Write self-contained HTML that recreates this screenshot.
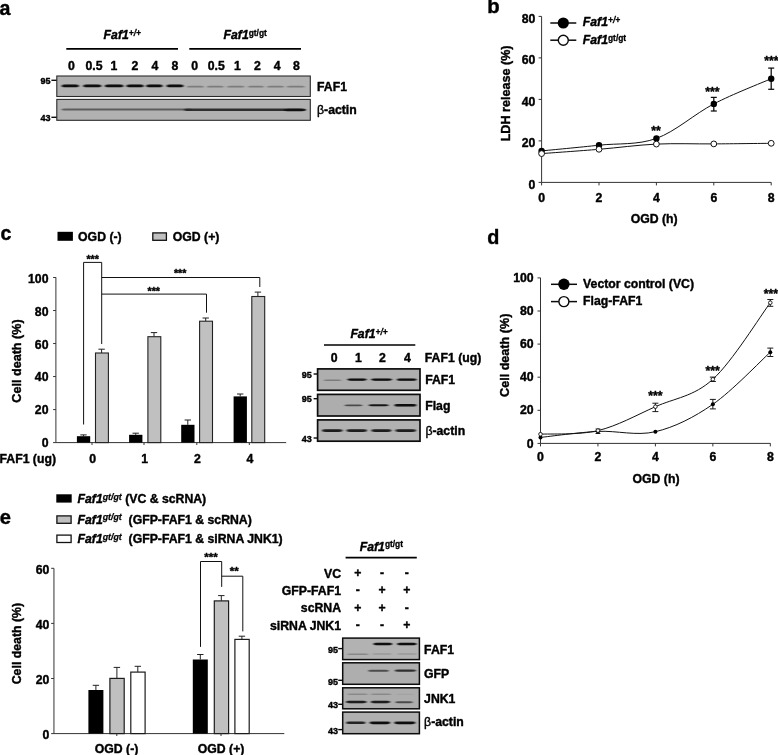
<!DOCTYPE html>
<html lang="en"><head><meta charset="utf-8"><title>FAF1 OGD figure</title>
<style>html,body{margin:0;padding:0;background:#fff;overflow:hidden}svg{display:block}text{font-family:"Liberation Sans",sans-serif;font-weight:bold;fill:#000;stroke:#000;stroke-width:0.4px;stroke-linejoin:round}</style></head><body>
<svg width="778" height="755" viewBox="0 0 778 755">
<defs><filter id="b1" x="-20%" y="-100%" width="140%" height="300%"><feGaussianBlur stdDeviation="0.9 0.6"/></filter><filter id="b2" x="-20%" y="-100%" width="140%" height="300%"><feGaussianBlur stdDeviation="1.3 0.9"/></filter></defs>
<rect x="0.00" y="0.00" width="778.00" height="755.00" fill="#fff"/>
<g id="panel-a">
<text x="-0.50" y="15.20" font-size="19.6" text-anchor="start">a</text>
<text x="103.60" y="39.20" font-size="12.25" font-style="italic">Faf1<tspan dy="-3.4" font-size="8.4" stroke-width="0.3" font-style="italic">+/+</tspan></text>
<text x="223.50" y="39.20" font-size="12.25" font-style="italic">Faf1<tspan dy="-3.4" font-size="8.4" stroke-width="0.3" font-style="normal">gt/gt</tspan></text>
<line x1="66.30" y1="48.90" x2="178.00" y2="48.90" stroke="#000" stroke-width="1.6"/>
<line x1="189.30" y1="48.90" x2="301.00" y2="48.90" stroke="#000" stroke-width="1.6"/>
<text x="71.50" y="70.20" font-size="12.25" text-anchor="middle">0</text>
<text x="94.00" y="70.20" font-size="12.25" text-anchor="middle">0.5</text>
<text x="114.00" y="70.20" font-size="12.25" text-anchor="middle">1</text>
<text x="135.00" y="70.20" font-size="12.25" text-anchor="middle">2</text>
<text x="155.00" y="70.20" font-size="12.25" text-anchor="middle">4</text>
<text x="175.00" y="70.20" font-size="12.25" text-anchor="middle">8</text>
<text x="194.70" y="70.20" font-size="12.25" text-anchor="middle">0</text>
<text x="216.30" y="70.20" font-size="12.25" text-anchor="middle">0.5</text>
<text x="237.40" y="70.20" font-size="12.25" text-anchor="middle">1</text>
<text x="257.40" y="70.20" font-size="12.25" text-anchor="middle">2</text>
<text x="277.20" y="70.20" font-size="12.25" text-anchor="middle">4</text>
<text x="296.50" y="70.20" font-size="12.25" text-anchor="middle">8</text>
<rect x="56.80" y="76.00" width="253.50" height="20.50" fill="#b1b1b1" stroke="#2a2a2a" stroke-width="1.1"/>
<rect x="56.80" y="99.40" width="253.50" height="20.90" fill="#b1b1b1" stroke="#2a2a2a" stroke-width="1.1"/>
<rect x="61.70" y="84.47" width="17.10" height="2.87" rx="3.42" ry="1.43" fill="#080808" opacity="1.0" filter="url(#b1)"/>
<rect x="83.30" y="84.47" width="18.00" height="2.87" rx="3.60" ry="1.43" fill="#080808" opacity="1.0" filter="url(#b1)"/>
<rect x="104.90" y="84.47" width="18.50" height="2.87" rx="3.70" ry="1.43" fill="#080808" opacity="1.0" filter="url(#b1)"/>
<rect x="126.50" y="84.47" width="17.10" height="2.87" rx="3.42" ry="1.43" fill="#080808" opacity="1.0" filter="url(#b1)"/>
<rect x="146.30" y="84.47" width="16.20" height="2.87" rx="3.24" ry="1.43" fill="#080808" opacity="1.0" filter="url(#b1)"/>
<rect x="166.60" y="84.47" width="16.90" height="2.87" rx="3.38" ry="1.43" fill="#080808" opacity="1.0" filter="url(#b1)"/>
<rect x="187.00" y="85.80" width="16.80" height="1.80" rx="3.36" ry="0.90" fill="#666" opacity="0.7" filter="url(#b1)"/>
<rect x="207.00" y="85.80" width="16.60" height="1.80" rx="3.32" ry="0.90" fill="#666" opacity="0.7" filter="url(#b1)"/>
<rect x="227.20" y="85.80" width="17.10" height="1.80" rx="3.42" ry="0.90" fill="#666" opacity="0.7" filter="url(#b1)"/>
<rect x="247.90" y="85.80" width="16.10" height="1.80" rx="3.22" ry="0.90" fill="#666" opacity="0.7" filter="url(#b1)"/>
<rect x="267.10" y="85.80" width="16.80" height="1.80" rx="3.36" ry="0.90" fill="#666" opacity="0.7" filter="url(#b1)"/>
<rect x="286.90" y="85.80" width="17.70" height="1.80" rx="3.54" ry="0.90" fill="#666" opacity="0.7" filter="url(#b1)"/>
<rect x="61.50" y="108.38" width="130.50" height="2.05" rx="3.92" ry="1.02" fill="#3c3c3c" opacity="0.72" filter="url(#b1)"/>
<rect x="184.00" y="108.57" width="122.00" height="2.46" rx="4.88" ry="1.23" fill="#222" opacity="0.9" filter="url(#b1)"/>
<rect x="284.00" y="108.87" width="21.00" height="2.46" rx="5.25" ry="1.23" fill="#0c0c0c" opacity="0.9" filter="url(#b1)"/>
<text x="50.50" y="83.90" font-size="9.0" text-anchor="end">95</text>
<line x1="51.40" y1="80.30" x2="56.60" y2="80.30" stroke="#0a0a0a" stroke-width="1.4"/>
<text x="50.50" y="120.90" font-size="9.0" text-anchor="end">43</text>
<line x1="51.40" y1="117.30" x2="56.60" y2="117.30" stroke="#0a0a0a" stroke-width="1.4"/>
<text x="317.00" y="91.40" font-size="12.25" text-anchor="start">FAF1</text>
<text x="317.00" y="113.90" font-size="12.25" text-anchor="start"><tspan font-weight="normal">β</tspan>-actin</text>
</g>
<g id="panel-b">
<text x="487.30" y="12.90" font-size="20.3" text-anchor="start">b</text>
<line x1="541.60" y1="16.40" x2="541.60" y2="182.40" stroke="#333" stroke-width="1.0"/>
<line x1="541.60" y1="182.40" x2="771.20" y2="182.40" stroke="#333" stroke-width="1.0"/>
<line x1="538.60" y1="182.40" x2="541.60" y2="182.40" stroke="#333" stroke-width="1.0"/>
<text x="535.40" y="188.60" font-size="12.25" text-anchor="end">0</text>
<line x1="538.60" y1="140.90" x2="541.60" y2="140.90" stroke="#333" stroke-width="1.0"/>
<text x="535.40" y="147.10" font-size="12.25" text-anchor="end">20</text>
<line x1="538.60" y1="99.40" x2="541.60" y2="99.40" stroke="#333" stroke-width="1.0"/>
<text x="535.40" y="105.60" font-size="12.25" text-anchor="end">40</text>
<line x1="538.60" y1="57.90" x2="541.60" y2="57.90" stroke="#333" stroke-width="1.0"/>
<text x="535.40" y="64.10" font-size="12.25" text-anchor="end">60</text>
<line x1="538.60" y1="16.40" x2="541.60" y2="16.40" stroke="#333" stroke-width="1.0"/>
<text x="535.40" y="22.60" font-size="12.25" text-anchor="end">80</text>
<line x1="541.60" y1="182.40" x2="541.60" y2="185.40" stroke="#333" stroke-width="1.0"/>
<text x="541.60" y="202.20" font-size="12.25" text-anchor="middle">0</text>
<line x1="599.00" y1="182.40" x2="599.00" y2="185.40" stroke="#333" stroke-width="1.0"/>
<text x="599.00" y="202.20" font-size="12.25" text-anchor="middle">2</text>
<line x1="656.40" y1="182.40" x2="656.40" y2="185.40" stroke="#333" stroke-width="1.0"/>
<text x="656.40" y="202.20" font-size="12.25" text-anchor="middle">4</text>
<line x1="713.80" y1="182.40" x2="713.80" y2="185.40" stroke="#333" stroke-width="1.0"/>
<text x="713.80" y="202.20" font-size="12.25" text-anchor="middle">6</text>
<line x1="771.20" y1="182.40" x2="771.20" y2="185.40" stroke="#333" stroke-width="1.0"/>
<text x="771.20" y="202.20" font-size="12.25" text-anchor="middle">8</text>
<text x="654.20" y="222.70" font-size="12.25" text-anchor="middle">OGD (h)</text>
<text transform="translate(509.80,93.40) rotate(-90)" font-size="12.6" text-anchor="middle">LDH release (%)</text>
<line x1="550.30" y1="23.00" x2="576.30" y2="23.00" stroke="#0a0a0a" stroke-width="1.5"/>
<circle cx="563.30" cy="23.00" r="5.6" fill="#000"/>
<line x1="550.30" y1="40.20" x2="576.30" y2="40.20" stroke="#0a0a0a" stroke-width="1.5"/>
<circle cx="563.30" cy="40.20" r="5.0" fill="#fff" stroke="#0a0a0a" stroke-width="1.4"/>
<text x="582.80" y="26.00" font-size="12.25" font-style="italic">Faf1<tspan dy="-3.4" font-size="8.4" stroke-width="0.3" font-style="italic">+/+</tspan></text>
<text x="582.80" y="44.10" font-size="12.25" font-style="italic">Faf1<tspan dy="-3.4" font-size="8.4" stroke-width="0.3" font-style="normal">gt/gt</tspan></text>
<path d="M541.60,153.60 C551.17,152.88 579.87,150.88 599.00,149.30 C618.13,147.72 637.27,145.00 656.40,144.10 C675.53,143.20 694.67,144.03 713.80,143.90 C732.93,143.77 761.63,143.40 771.20,143.30" fill="none" stroke="#111" stroke-width="1.0"/>
<path d="M541.60,150.90 C551.17,149.95 579.87,147.28 599.00,145.20 C618.13,143.12 637.27,145.28 656.40,138.40 C675.53,131.52 694.67,113.85 713.80,103.90 C732.93,93.95 761.63,82.90 771.20,78.70" fill="none" stroke="#111" stroke-width="1.0"/>
<line x1="713.80" y1="97.40" x2="713.80" y2="111.00" stroke="#0a0a0a" stroke-width="1.25"/>
<line x1="710.80" y1="97.40" x2="716.80" y2="97.40" stroke="#0a0a0a" stroke-width="1.25"/>
<line x1="710.80" y1="111.00" x2="716.80" y2="111.00" stroke="#0a0a0a" stroke-width="1.25"/>
<line x1="771.20" y1="68.10" x2="771.20" y2="89.30" stroke="#0a0a0a" stroke-width="1.25"/>
<line x1="768.20" y1="68.10" x2="774.20" y2="68.10" stroke="#0a0a0a" stroke-width="1.25"/>
<line x1="768.20" y1="89.30" x2="774.20" y2="89.30" stroke="#0a0a0a" stroke-width="1.25"/>
<circle cx="541.60" cy="150.90" r="3.2" fill="#000"/>
<circle cx="599.00" cy="145.20" r="3.2" fill="#000"/>
<circle cx="656.40" cy="138.40" r="3.2" fill="#000"/>
<circle cx="713.80" cy="103.90" r="3.2" fill="#000"/>
<circle cx="771.20" cy="78.70" r="3.2" fill="#000"/>
<circle cx="541.60" cy="153.60" r="2.9" fill="#fff" stroke="#111" stroke-width="1.0"/>
<circle cx="599.00" cy="149.30" r="2.9" fill="#fff" stroke="#111" stroke-width="1.0"/>
<circle cx="656.40" cy="144.10" r="2.9" fill="#fff" stroke="#111" stroke-width="1.0"/>
<circle cx="713.80" cy="143.90" r="2.9" fill="#fff" stroke="#111" stroke-width="1.0"/>
<circle cx="771.20" cy="143.30" r="2.9" fill="#fff" stroke="#111" stroke-width="1.0"/>
<text x="656.00" y="134.60" font-size="12.25" text-anchor="middle" stroke-width="0.15">**</text>
<text x="712.40" y="96.40" font-size="12.25" text-anchor="middle" stroke-width="0.15">***</text>
<text x="764.30" y="64.60" font-size="12.25" text-anchor="start" stroke-width="0.15">***</text>
</g>
<g id="panel-c">
<text x="0.40" y="239.80" font-size="19.6" text-anchor="start">c</text>
<rect x="57.50" y="231.80" width="15.40" height="9.00" fill="#000"/>
<text x="78.10" y="240.70" font-size="12.25" text-anchor="start">OGD (-)</text>
<rect x="152.80" y="232.90" width="13.60" height="7.40" fill="#c0c0c0" stroke="#111" stroke-width="1.3"/>
<text x="172.80" y="240.70" font-size="12.25" text-anchor="start">OGD (+)</text>
<line x1="55.90" y1="277.30" x2="55.90" y2="442.60" stroke="#333" stroke-width="1.0"/>
<line x1="55.90" y1="442.60" x2="286.20" y2="442.60" stroke="#333" stroke-width="1.0"/>
<line x1="53.10" y1="442.60" x2="55.90" y2="442.60" stroke="#333" stroke-width="1.0"/>
<text x="48.50" y="446.80" font-size="12.25" text-anchor="end">0</text>
<line x1="53.10" y1="409.58" x2="55.90" y2="409.58" stroke="#333" stroke-width="1.0"/>
<text x="48.50" y="414.08" font-size="12.25" text-anchor="end">20</text>
<line x1="53.10" y1="376.56" x2="55.90" y2="376.56" stroke="#333" stroke-width="1.0"/>
<text x="48.50" y="381.36" font-size="12.25" text-anchor="end">40</text>
<line x1="53.10" y1="343.54" x2="55.90" y2="343.54" stroke="#333" stroke-width="1.0"/>
<text x="48.50" y="348.64" font-size="12.25" text-anchor="end">60</text>
<line x1="53.10" y1="310.52" x2="55.90" y2="310.52" stroke="#333" stroke-width="1.0"/>
<text x="48.50" y="315.92" font-size="12.25" text-anchor="end">80</text>
<line x1="53.10" y1="277.50" x2="55.90" y2="277.50" stroke="#333" stroke-width="1.0"/>
<text x="48.50" y="283.20" font-size="12.25" text-anchor="end">100</text>
<text transform="translate(21.30,361.00) rotate(-90)" font-size="12.6" text-anchor="middle">Cell death (%)</text>
<text x="56.00" y="462.50" font-size="12.25" text-anchor="end">FAF1 (ug)</text>
<line x1="83.50" y1="434.90" x2="83.50" y2="436.20" stroke="#222" stroke-width="1.0"/>
<line x1="80.30" y1="434.90" x2="86.70" y2="434.90" stroke="#222" stroke-width="1.0"/>
<rect x="76.90" y="436.20" width="13.30" height="6.40" fill="#000"/>
<line x1="101.60" y1="349.20" x2="101.60" y2="353.00" stroke="#222" stroke-width="1.0"/>
<line x1="98.40" y1="349.20" x2="104.80" y2="349.20" stroke="#222" stroke-width="1.0"/>
<rect x="95.50" y="353.00" width="12.90" height="89.60" fill="#c0c0c0" stroke="#222" stroke-width="1.1"/>
<line x1="92.00" y1="442.60" x2="92.00" y2="445.00" stroke="#333" stroke-width="1.0"/>
<text x="92.60" y="462.50" font-size="12.25" text-anchor="middle">0</text>
<line x1="135.70" y1="433.20" x2="135.70" y2="434.80" stroke="#222" stroke-width="1.0"/>
<line x1="132.50" y1="433.20" x2="138.90" y2="433.20" stroke="#222" stroke-width="1.0"/>
<rect x="129.10" y="434.80" width="13.30" height="7.80" fill="#000"/>
<line x1="154.00" y1="332.60" x2="154.00" y2="336.70" stroke="#222" stroke-width="1.0"/>
<line x1="150.80" y1="332.60" x2="157.20" y2="332.60" stroke="#222" stroke-width="1.0"/>
<rect x="147.90" y="336.70" width="12.90" height="105.90" fill="#c0c0c0" stroke="#222" stroke-width="1.1"/>
<line x1="144.00" y1="442.60" x2="144.00" y2="445.00" stroke="#333" stroke-width="1.0"/>
<text x="144.60" y="462.50" font-size="12.25" text-anchor="middle">1</text>
<line x1="187.80" y1="420.00" x2="187.80" y2="424.80" stroke="#222" stroke-width="1.0"/>
<line x1="184.60" y1="420.00" x2="191.00" y2="420.00" stroke="#222" stroke-width="1.0"/>
<rect x="181.20" y="424.80" width="13.30" height="17.80" fill="#000"/>
<line x1="205.70" y1="318.00" x2="205.70" y2="321.20" stroke="#222" stroke-width="1.0"/>
<line x1="202.50" y1="318.00" x2="208.90" y2="318.00" stroke="#222" stroke-width="1.0"/>
<rect x="199.60" y="321.20" width="12.90" height="121.40" fill="#c0c0c0" stroke="#222" stroke-width="1.1"/>
<line x1="196.80" y1="442.60" x2="196.80" y2="445.00" stroke="#333" stroke-width="1.0"/>
<text x="197.40" y="462.50" font-size="12.25" text-anchor="middle">2</text>
<line x1="240.20" y1="394.00" x2="240.20" y2="396.40" stroke="#222" stroke-width="1.0"/>
<line x1="237.00" y1="394.00" x2="243.40" y2="394.00" stroke="#222" stroke-width="1.0"/>
<rect x="233.60" y="396.40" width="13.30" height="46.20" fill="#000"/>
<line x1="257.90" y1="292.10" x2="257.90" y2="296.50" stroke="#222" stroke-width="1.0"/>
<line x1="254.70" y1="292.10" x2="261.10" y2="292.10" stroke="#222" stroke-width="1.0"/>
<rect x="251.80" y="296.50" width="12.90" height="146.10" fill="#c0c0c0" stroke="#222" stroke-width="1.1"/>
<line x1="249.30" y1="442.60" x2="249.30" y2="445.00" stroke="#333" stroke-width="1.0"/>
<text x="249.90" y="462.50" font-size="12.25" text-anchor="middle">4</text>
<polyline points="83.60,424.50 83.60,262.40 101.70,262.40 101.70,344.00" fill="none" stroke="#111" stroke-width="1.0"/>
<polyline points="101.70,277.50 259.80,277.50 259.80,287.00" fill="none" stroke="#111" stroke-width="1.0"/>
<polyline points="101.70,294.10 206.50,294.10 206.50,312.70" fill="none" stroke="#111" stroke-width="1.0"/>
<text x="92.70" y="262.60" font-size="10.6" text-anchor="middle" stroke-width="0.15">***</text>
<text x="180.10" y="277.40" font-size="10.6" text-anchor="middle" stroke-width="0.15">***</text>
<text x="153.80" y="295.00" font-size="10.6" text-anchor="middle" stroke-width="0.15">***</text>
<text x="350.40" y="338.20" font-size="12.25" font-style="italic">Faf1<tspan dy="-3.4" font-size="8.4" stroke-width="0.3" font-style="italic">+/+</tspan></text>
<line x1="324.00" y1="345.00" x2="415.30" y2="345.00" stroke="#000" stroke-width="1.6"/>
<text x="334.10" y="362.20" font-size="12.25" text-anchor="middle">0</text>
<text x="358.50" y="362.20" font-size="12.25" text-anchor="middle">1</text>
<text x="382.40" y="362.20" font-size="12.25" text-anchor="middle">2</text>
<text x="407.30" y="362.20" font-size="12.25" text-anchor="middle">4</text>
<text x="424.80" y="362.20" font-size="12.25" text-anchor="start">FAF1 (ug)</text>
<rect x="317.60" y="368.90" width="102.40" height="21.40" fill="#aeaeae" stroke="#0c0c0c" stroke-width="1.7"/>
<rect x="317.60" y="394.40" width="102.40" height="21.60" fill="#adadad" stroke="#0c0c0c" stroke-width="1.7"/>
<rect x="317.60" y="419.90" width="102.40" height="21.30" fill="#b2b2b2" stroke="#0c0c0c" stroke-width="1.7"/>
<rect x="323.50" y="379.52" width="18.00" height="1.56" rx="2.88" ry="0.78" fill="#666" opacity="0.7" filter="url(#b1)"/>
<rect x="347.20" y="378.58" width="19.60" height="2.05" rx="3.14" ry="1.02" fill="#080808" opacity="1.0" filter="url(#b1)"/>
<rect x="371.20" y="378.49" width="20.80" height="2.21" rx="3.33" ry="1.11" fill="#080808" opacity="1.0" filter="url(#b1)"/>
<rect x="396.80" y="378.41" width="19.80" height="2.38" rx="3.17" ry="1.19" fill="#080808" opacity="1.0" filter="url(#b1)"/>
<rect x="344.50" y="404.62" width="18.00" height="1.56" rx="2.88" ry="0.78" fill="#333" opacity="0.8" filter="url(#b1)"/>
<rect x="368.60" y="404.22" width="20.00" height="1.97" rx="3.20" ry="0.98" fill="#111" opacity="0.95" filter="url(#b1)"/>
<rect x="394.40" y="403.97" width="22.00" height="2.46" rx="3.52" ry="1.23" fill="#080808" opacity="1.0" filter="url(#b1)"/>
<rect x="322.00" y="429.29" width="20.60" height="2.62" rx="3.30" ry="1.31" fill="#151515" opacity="0.95" filter="url(#b1)"/>
<rect x="346.40" y="429.29" width="20.60" height="2.62" rx="3.30" ry="1.31" fill="#151515" opacity="0.95" filter="url(#b1)"/>
<rect x="371.30" y="429.29" width="20.10" height="2.62" rx="3.22" ry="1.31" fill="#151515" opacity="0.95" filter="url(#b1)"/>
<rect x="395.30" y="429.29" width="20.70" height="2.62" rx="3.31" ry="1.31" fill="#151515" opacity="0.95" filter="url(#b1)"/>
<text x="311.80" y="377.60" font-size="9.0" text-anchor="end">95</text>
<line x1="313.60" y1="374.00" x2="317.50" y2="374.00" stroke="#0a0a0a" stroke-width="1.4"/>
<text x="311.80" y="402.30" font-size="9.0" text-anchor="end">95</text>
<line x1="313.60" y1="398.70" x2="317.50" y2="398.70" stroke="#0a0a0a" stroke-width="1.4"/>
<text x="311.80" y="441.60" font-size="9.0" text-anchor="end">43</text>
<line x1="313.60" y1="438.00" x2="317.50" y2="438.00" stroke="#0a0a0a" stroke-width="1.4"/>
<text x="425.20" y="383.60" font-size="12.25" text-anchor="start">FAF1</text>
<text x="425.20" y="410.30" font-size="12.25" text-anchor="start">Flag</text>
<text x="425.40" y="434.90" font-size="12.25" text-anchor="start"><tspan font-weight="normal">β</tspan>-actin</text>
</g>
<g id="panel-d">
<text x="487.20" y="244.40" font-size="19.8" text-anchor="start">d</text>
<line x1="540.50" y1="277.80" x2="540.50" y2="443.40" stroke="#333" stroke-width="1.0"/>
<line x1="540.50" y1="443.40" x2="770.50" y2="443.40" stroke="#333" stroke-width="1.0"/>
<line x1="537.50" y1="443.40" x2="540.50" y2="443.40" stroke="#333" stroke-width="1.0"/>
<text x="533.60" y="447.50" font-size="12.25" text-anchor="end">0</text>
<line x1="537.50" y1="410.30" x2="540.50" y2="410.30" stroke="#333" stroke-width="1.0"/>
<text x="533.60" y="414.40" font-size="12.25" text-anchor="end">20</text>
<line x1="537.50" y1="377.20" x2="540.50" y2="377.20" stroke="#333" stroke-width="1.0"/>
<text x="533.60" y="381.30" font-size="12.25" text-anchor="end">40</text>
<line x1="537.50" y1="344.10" x2="540.50" y2="344.10" stroke="#333" stroke-width="1.0"/>
<text x="533.60" y="348.20" font-size="12.25" text-anchor="end">60</text>
<line x1="537.50" y1="311.00" x2="540.50" y2="311.00" stroke="#333" stroke-width="1.0"/>
<text x="533.60" y="315.10" font-size="12.25" text-anchor="end">80</text>
<line x1="537.50" y1="277.90" x2="540.50" y2="277.90" stroke="#333" stroke-width="1.0"/>
<text x="533.60" y="282.00" font-size="12.25" text-anchor="end">100</text>
<line x1="540.50" y1="443.40" x2="540.50" y2="446.40" stroke="#333" stroke-width="1.0"/>
<text x="540.50" y="461.00" font-size="12.25" text-anchor="middle">0</text>
<line x1="597.95" y1="443.40" x2="597.95" y2="446.40" stroke="#333" stroke-width="1.0"/>
<text x="597.95" y="461.00" font-size="12.25" text-anchor="middle">2</text>
<line x1="655.40" y1="443.40" x2="655.40" y2="446.40" stroke="#333" stroke-width="1.0"/>
<text x="655.40" y="461.00" font-size="12.25" text-anchor="middle">4</text>
<line x1="712.85" y1="443.40" x2="712.85" y2="446.40" stroke="#333" stroke-width="1.0"/>
<text x="712.85" y="461.00" font-size="12.25" text-anchor="middle">6</text>
<line x1="770.30" y1="443.40" x2="770.30" y2="446.40" stroke="#333" stroke-width="1.0"/>
<text x="770.30" y="461.00" font-size="12.25" text-anchor="middle">8</text>
<text x="656.00" y="483.00" font-size="12.25" text-anchor="middle">OGD (h)</text>
<text transform="translate(508.90,355.30) rotate(-90)" font-size="12.6" text-anchor="middle">Cell death (%)</text>
<line x1="551.00" y1="284.30" x2="577.00" y2="284.30" stroke="#0a0a0a" stroke-width="1.5"/>
<circle cx="563.90" cy="284.30" r="5.7" fill="#000"/>
<line x1="551.00" y1="301.60" x2="577.00" y2="301.60" stroke="#0a0a0a" stroke-width="1.5"/>
<circle cx="563.90" cy="301.60" r="5.0" fill="#fff" stroke="#0a0a0a" stroke-width="1.4"/>
<text x="583.10" y="287.50" font-size="12.25" text-anchor="start">Vector control (VC)</text>
<text x="583.10" y="305.30" font-size="12.25" text-anchor="start">Flag-FAF1</text>
<path d="M540.50,437.40 C550.08,436.40 578.80,432.35 597.95,431.40 C617.10,430.45 636.25,436.22 655.40,431.70 C674.55,427.18 693.70,417.55 712.85,404.30 C732.00,391.05 760.72,360.88 770.30,352.20" fill="none" stroke="#111" stroke-width="1.0"/>
<path d="M540.50,434.20 C550.08,433.60 578.80,435.18 597.95,430.60 C617.10,426.02 636.25,415.25 655.40,406.70 C674.55,398.15 693.70,396.63 712.85,379.30 C732.00,361.97 760.72,315.47 770.30,302.70" fill="none" stroke="#111" stroke-width="1.0"/>
<line x1="597.95" y1="429.00" x2="597.95" y2="433.50" stroke="#1a1a1a" stroke-width="1.0"/>
<line x1="595.55" y1="429.00" x2="600.35" y2="429.00" stroke="#1a1a1a" stroke-width="1.0"/>
<line x1="595.55" y1="433.50" x2="600.35" y2="433.50" stroke="#1a1a1a" stroke-width="1.0"/>
<line x1="655.40" y1="403.20" x2="655.40" y2="411.60" stroke="#1a1a1a" stroke-width="1.0"/>
<line x1="652.40" y1="403.20" x2="658.40" y2="403.20" stroke="#1a1a1a" stroke-width="1.0"/>
<line x1="652.40" y1="411.60" x2="658.40" y2="411.60" stroke="#1a1a1a" stroke-width="1.0"/>
<line x1="712.85" y1="377.10" x2="712.85" y2="381.50" stroke="#1a1a1a" stroke-width="1.0"/>
<line x1="709.85" y1="377.10" x2="715.85" y2="377.10" stroke="#1a1a1a" stroke-width="1.0"/>
<line x1="709.85" y1="381.50" x2="715.85" y2="381.50" stroke="#1a1a1a" stroke-width="1.0"/>
<line x1="770.30" y1="299.50" x2="770.30" y2="306.30" stroke="#1a1a1a" stroke-width="1.0"/>
<line x1="767.30" y1="299.50" x2="773.30" y2="299.50" stroke="#1a1a1a" stroke-width="1.0"/>
<line x1="767.30" y1="306.30" x2="773.30" y2="306.30" stroke="#1a1a1a" stroke-width="1.0"/>
<line x1="712.85" y1="399.40" x2="712.85" y2="408.90" stroke="#1a1a1a" stroke-width="1.0"/>
<line x1="709.85" y1="399.40" x2="715.85" y2="399.40" stroke="#1a1a1a" stroke-width="1.0"/>
<line x1="709.85" y1="408.90" x2="715.85" y2="408.90" stroke="#1a1a1a" stroke-width="1.0"/>
<line x1="770.30" y1="348.10" x2="770.30" y2="356.50" stroke="#1a1a1a" stroke-width="1.0"/>
<line x1="767.30" y1="348.10" x2="773.30" y2="348.10" stroke="#1a1a1a" stroke-width="1.0"/>
<line x1="767.30" y1="356.50" x2="773.30" y2="356.50" stroke="#1a1a1a" stroke-width="1.0"/>
<circle cx="540.50" cy="437.40" r="2.0" fill="#000"/>
<circle cx="597.95" cy="431.40" r="2.0" fill="#000"/>
<circle cx="655.40" cy="431.70" r="2.0" fill="#000"/>
<circle cx="712.85" cy="404.30" r="2.0" fill="#000"/>
<circle cx="770.30" cy="352.20" r="2.0" fill="#000"/>
<circle cx="540.50" cy="434.20" r="1.8" fill="#fff" stroke="#111" stroke-width="0.9"/>
<circle cx="597.95" cy="430.60" r="1.8" fill="#fff" stroke="#111" stroke-width="0.9"/>
<circle cx="655.40" cy="406.70" r="1.8" fill="#fff" stroke="#111" stroke-width="0.9"/>
<circle cx="712.85" cy="379.30" r="1.8" fill="#fff" stroke="#111" stroke-width="0.9"/>
<circle cx="770.30" cy="302.70" r="1.8" fill="#fff" stroke="#111" stroke-width="0.9"/>
<text x="655.40" y="399.80" font-size="12.25" text-anchor="middle" stroke-width="0.15">***</text>
<text x="712.70" y="374.80" font-size="12.25" text-anchor="middle" stroke-width="0.15">***</text>
<text x="763.80" y="297.60" font-size="12.25" text-anchor="start" stroke-width="0.15">***</text>
</g>
<g id="panel-e">
<text x="-0.30" y="523.90" font-size="20.2" text-anchor="start">e</text>
<rect x="56.30" y="494.30" width="15.40" height="8.30" fill="#000"/>
<rect x="56.90" y="515.90" width="14.20" height="7.40" fill="#c0c0c0" stroke="#111" stroke-width="1.3"/>
<rect x="56.90" y="535.10" width="14.20" height="7.40" fill="#fff" stroke="#111" stroke-width="1.3"/>
<text x="77.5" y="503.0" font-size="12.25" style="white-space:pre"><tspan font-style="italic">Faf1</tspan><tspan dy="-3.4" font-size="8.8" stroke-width="0.25" font-style="italic">gt/gt</tspan><tspan dy="3.4"> (VC &amp; scRNA)</tspan></text>
<text x="77.5" y="523.7" font-size="12.25" style="white-space:pre"><tspan font-style="italic">Faf1</tspan><tspan dy="-3.4" font-size="8.8" stroke-width="0.25" font-style="italic">gt/gt</tspan><tspan dy="3.4">  (GFP-FAF1 &amp; scRNA)</tspan></text>
<text x="77.5" y="542.9" font-size="12.25" style="white-space:pre"><tspan font-style="italic">Faf1</tspan><tspan dy="-3.4" font-size="8.8" stroke-width="0.25" font-style="italic">gt/gt</tspan><tspan dy="3.4">  (GFP-FAF1 &amp; siRNA JNK1)</tspan></text>
<line x1="53.95" y1="568.30" x2="53.95" y2="733.60" stroke="#333" stroke-width="1.0"/>
<line x1="53.95" y1="733.60" x2="284.30" y2="733.60" stroke="#333" stroke-width="1.0"/>
<line x1="51.15" y1="733.60" x2="53.95" y2="733.60" stroke="#333" stroke-width="1.0"/>
<text x="49.30" y="739.00" font-size="12.25" text-anchor="end">0</text>
<line x1="51.15" y1="678.50" x2="53.95" y2="678.50" stroke="#333" stroke-width="1.0"/>
<text x="49.30" y="683.90" font-size="12.25" text-anchor="end">20</text>
<line x1="51.15" y1="623.40" x2="53.95" y2="623.40" stroke="#333" stroke-width="1.0"/>
<text x="49.30" y="628.80" font-size="12.25" text-anchor="end">40</text>
<line x1="51.15" y1="568.30" x2="53.95" y2="568.30" stroke="#333" stroke-width="1.0"/>
<text x="49.30" y="573.70" font-size="12.25" text-anchor="end">60</text>
<text transform="translate(20.90,643.60) rotate(-90)" font-size="12.3" text-anchor="middle">Cell death (%)</text>
<line x1="95.90" y1="685.30" x2="95.90" y2="690.00" stroke="#222" stroke-width="1.0"/>
<line x1="92.70" y1="685.30" x2="99.10" y2="685.30" stroke="#222" stroke-width="1.0"/>
<rect x="88.40" y="690.00" width="15.00" height="43.60" fill="#000"/>
<line x1="116.90" y1="667.40" x2="116.90" y2="678.40" stroke="#222" stroke-width="1.0"/>
<line x1="113.70" y1="667.40" x2="120.10" y2="667.40" stroke="#222" stroke-width="1.0"/>
<rect x="109.90" y="678.40" width="14.30" height="55.20" fill="#c0c0c0" stroke="#1c1c1c" stroke-width="1.2"/>
<line x1="137.80" y1="666.30" x2="137.80" y2="672.10" stroke="#222" stroke-width="1.0"/>
<line x1="134.60" y1="666.30" x2="141.00" y2="666.30" stroke="#222" stroke-width="1.0"/>
<rect x="130.80" y="672.10" width="14.30" height="61.50" fill="#fff" stroke="#1c1c1c" stroke-width="1.2"/>
<line x1="200.30" y1="654.50" x2="200.30" y2="659.50" stroke="#222" stroke-width="1.0"/>
<line x1="197.10" y1="654.50" x2="203.50" y2="654.50" stroke="#222" stroke-width="1.0"/>
<rect x="192.80" y="659.50" width="15.00" height="74.10" fill="#000"/>
<line x1="221.30" y1="595.60" x2="221.30" y2="600.90" stroke="#222" stroke-width="1.0"/>
<line x1="218.10" y1="595.60" x2="224.50" y2="595.60" stroke="#222" stroke-width="1.0"/>
<rect x="214.30" y="600.90" width="14.30" height="132.70" fill="#c0c0c0" stroke="#1c1c1c" stroke-width="1.2"/>
<line x1="241.90" y1="636.20" x2="241.90" y2="639.40" stroke="#222" stroke-width="1.0"/>
<line x1="238.70" y1="636.20" x2="245.10" y2="636.20" stroke="#222" stroke-width="1.0"/>
<rect x="234.90" y="639.40" width="14.30" height="94.20" fill="#fff" stroke="#1c1c1c" stroke-width="1.2"/>
<line x1="116.80" y1="733.60" x2="116.80" y2="736.00" stroke="#333" stroke-width="1.0"/>
<line x1="221.00" y1="733.60" x2="221.00" y2="736.00" stroke="#333" stroke-width="1.0"/>
<text x="116.60" y="753.00" font-size="12.25" text-anchor="middle">OGD (-)</text>
<text x="221.10" y="753.00" font-size="12.25" text-anchor="middle">OGD (+)</text>
<polyline points="200.50,646.90 200.50,561.50 221.70,561.50 221.70,586.90" fill="none" stroke="#111" stroke-width="1.0"/>
<polyline points="221.70,576.20 242.80,576.20 242.80,631.40" fill="none" stroke="#111" stroke-width="1.0"/>
<text x="211.00" y="560.80" font-size="11.5" text-anchor="middle" stroke-width="0.15">***</text>
<text x="234.20" y="574.80" font-size="11.5" text-anchor="middle" stroke-width="0.15">**</text>
<text x="359.70" y="550.70" font-size="12.25" font-style="italic">Faf1<tspan dy="-3.4" font-size="8.4" stroke-width="0.3" font-style="normal">gt/gt</tspan></text>
<line x1="345.60" y1="557.60" x2="416.80" y2="557.60" stroke="#000" stroke-width="1.6"/>
<text x="341.00" y="577.60" font-size="12.25" text-anchor="end">VC</text>
<text x="357.80" y="577.10" font-size="12.2" text-anchor="middle">+</text>
<text x="382.00" y="577.10" font-size="12.2" text-anchor="middle">-</text>
<text x="406.90" y="577.10" font-size="12.2" text-anchor="middle">-</text>
<text x="341.00" y="594.90" font-size="12.25" text-anchor="end">GFP-FAF1</text>
<text x="357.80" y="594.40" font-size="12.2" text-anchor="middle">-</text>
<text x="382.00" y="594.40" font-size="12.2" text-anchor="middle">+</text>
<text x="406.90" y="594.40" font-size="12.2" text-anchor="middle">+</text>
<text x="341.00" y="612.30" font-size="12.25" text-anchor="end">scRNA</text>
<text x="357.80" y="611.80" font-size="12.2" text-anchor="middle">+</text>
<text x="382.00" y="611.80" font-size="12.2" text-anchor="middle">+</text>
<text x="406.90" y="611.80" font-size="12.2" text-anchor="middle">-</text>
<text x="341.00" y="629.70" font-size="12.25" text-anchor="end">siRNA JNK1</text>
<text x="357.80" y="629.20" font-size="12.2" text-anchor="middle">-</text>
<text x="382.00" y="629.20" font-size="12.2" text-anchor="middle">-</text>
<text x="406.90" y="629.20" font-size="12.2" text-anchor="middle">+</text>
<rect x="342.70" y="638.10" width="76.70" height="21.50" fill="#b2b2b2" stroke="#0c0c0c" stroke-width="1.5"/>
<rect x="342.70" y="662.80" width="76.70" height="21.50" fill="#aeaeae" stroke="#0c0c0c" stroke-width="1.5"/>
<rect x="342.70" y="687.80" width="76.70" height="21.00" fill="#adadad" stroke="#0c0c0c" stroke-width="1.5"/>
<rect x="342.70" y="712.10" width="76.70" height="21.60" fill="#b0b0b0" stroke="#0c0c0c" stroke-width="1.5"/>
<rect x="373.40" y="642.77" width="18.90" height="2.46" rx="3.02" ry="1.23" fill="#0a0a0a" opacity="1.0" filter="url(#b1)"/>
<rect x="397.20" y="642.69" width="19.40" height="2.62" rx="3.10" ry="1.31" fill="#0a0a0a" opacity="1.0" filter="url(#b1)"/>
<rect x="347.00" y="653.38" width="21.60" height="1.64" rx="3.46" ry="0.82" fill="#777" opacity="0.7" filter="url(#b1)"/>
<rect x="372.00" y="653.26" width="20.00" height="1.48" rx="3.20" ry="0.74" fill="#888" opacity="0.6" filter="url(#b1)"/>
<rect x="397.00" y="653.26" width="20.00" height="1.48" rx="3.20" ry="0.74" fill="#888" opacity="0.6" filter="url(#b1)"/>
<rect x="368.20" y="669.63" width="20.60" height="2.13" rx="3.30" ry="1.07" fill="#3a3a3a" opacity="0.85" filter="url(#b1)"/>
<rect x="394.80" y="669.41" width="21.20" height="2.38" rx="3.39" ry="1.19" fill="#222" opacity="0.9" filter="url(#b1)"/>
<rect x="347.00" y="693.46" width="21.00" height="1.48" rx="3.36" ry="0.74" fill="#777" opacity="0.65" filter="url(#b1)"/>
<rect x="370.50" y="693.46" width="21.00" height="1.48" rx="3.36" ry="0.74" fill="#777" opacity="0.65" filter="url(#b1)"/>
<rect x="396.00" y="693.78" width="18.00" height="1.23" rx="2.88" ry="0.61" fill="#999" opacity="0.5" filter="url(#b1)"/>
<rect x="346.00" y="700.85" width="20.60" height="2.30" rx="3.30" ry="1.15" fill="#151515" opacity="0.95" filter="url(#b1)"/>
<rect x="370.70" y="700.85" width="19.50" height="2.30" rx="3.12" ry="1.15" fill="#151515" opacity="0.95" filter="url(#b1)"/>
<rect x="395.30" y="701.26" width="17.50" height="1.89" rx="2.80" ry="0.94" fill="#3a3a3a" opacity="0.85" filter="url(#b1)"/>
<rect x="346.00" y="721.51" width="19.50" height="2.38" rx="3.12" ry="1.19" fill="#1a1a1a" opacity="0.95" filter="url(#b1)"/>
<rect x="369.60" y="721.45" width="20.60" height="2.71" rx="3.30" ry="1.35" fill="#0f0f0f" opacity="1.0" filter="url(#b1)"/>
<rect x="394.30" y="721.45" width="21.10" height="2.71" rx="3.38" ry="1.35" fill="#0f0f0f" opacity="1.0" filter="url(#b1)"/>
<text x="338.10" y="652.80" font-size="9.0" text-anchor="end">95</text>
<line x1="338.20" y1="648.60" x2="342.50" y2="648.60" stroke="#0a0a0a" stroke-width="1.4"/>
<text x="338.10" y="684.70" font-size="9.0" text-anchor="end">95</text>
<line x1="338.20" y1="680.30" x2="342.50" y2="680.30" stroke="#0a0a0a" stroke-width="1.4"/>
<text x="338.10" y="707.70" font-size="9.0" text-anchor="end">43</text>
<line x1="338.20" y1="704.30" x2="342.50" y2="704.30" stroke="#0a0a0a" stroke-width="1.4"/>
<text x="338.10" y="733.50" font-size="9.0" text-anchor="end">43</text>
<line x1="338.20" y1="729.60" x2="342.50" y2="729.60" stroke="#0a0a0a" stroke-width="1.4"/>
<text x="424.10" y="654.40" font-size="12.25" text-anchor="start">FAF1</text>
<text x="424.10" y="678.40" font-size="12.25" text-anchor="start">GFP</text>
<text x="424.10" y="703.00" font-size="12.25" text-anchor="start">JNK1</text>
<text x="424.10" y="726.20" font-size="12.25" text-anchor="start"><tspan font-weight="normal">β</tspan>-actin</text>
</g>
</svg></body></html>
